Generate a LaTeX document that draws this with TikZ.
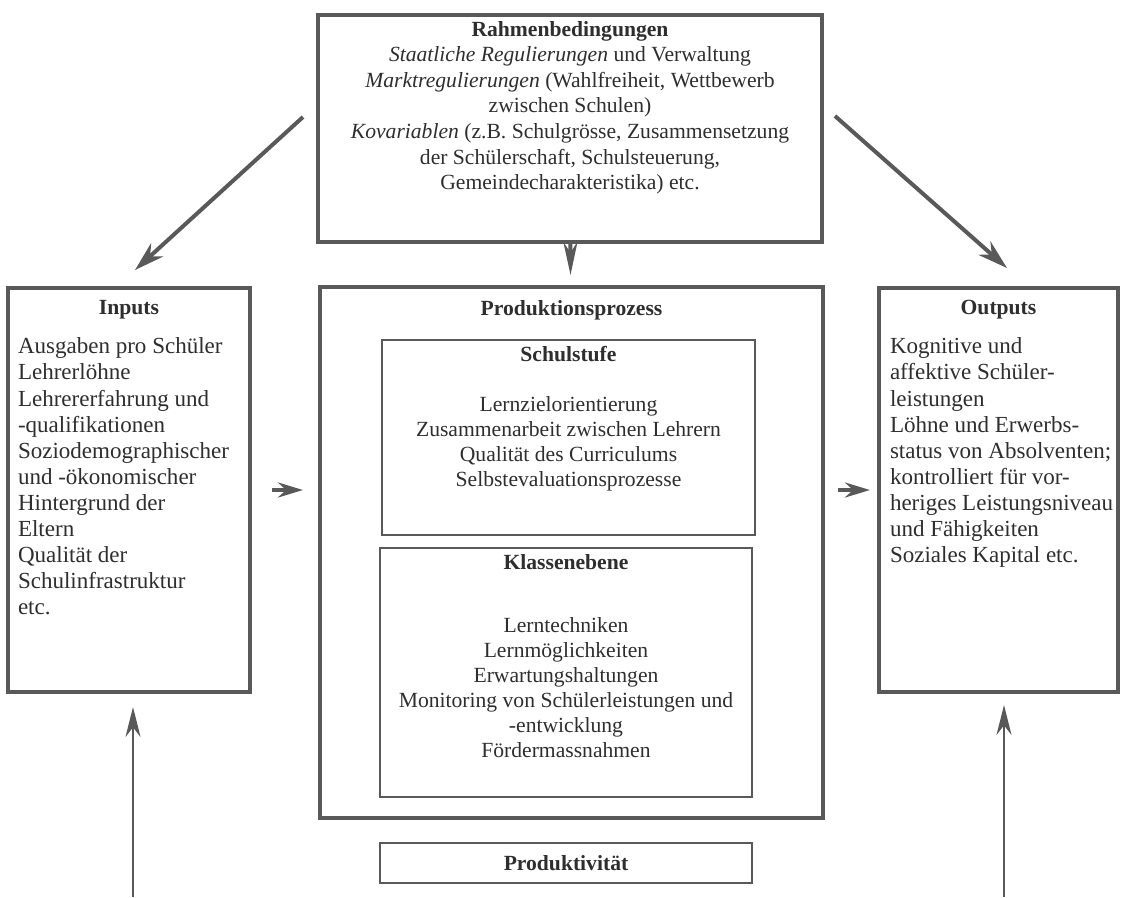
\documentclass[tikz,border=0pt]{standalone}
\usepackage{fontspec}
\setmainfont{Liberation Serif}
\usetikzlibrary{arrows.meta,positioning}

\tikzset{
	bigbox/.style={draw=black!65, line width=0.7mm, inner sep=0pt, outer sep=0pt},
	smallbox/.style={draw=black!65, line width=0.4mm, inner sep=0pt, outer sep=0pt},
	midtext/.style={text=black!82, inner sep=0pt, outer sep=0pt, align=center, font=\fontsize{12.3}{14.3}\selectfont},
	toptext/.style={midtext, font=\fontsize{12.3}{14.6}\selectfont},
	sidetext/.style={text=black!82, inner sep=0pt, outer sep=0pt, align=left, font=\fontsize{13.1}{14.8}\selectfont},
	flowline/.style={draw=black!65, line width=0.8mm, -{Stealth[length=6mm, width=3.6mm]}},
	footline/.style={draw=black!65, line width=0.4mm, -{Stealth[length=6mm, width=3mm]}},
}

\begin{document}
\begin{tikzpicture}
		%%%%% START %%%%%
		\useasboundingbox (0, 0) rectangle (22.42, -17.94);
		
		% boxes
		\node[bigbox, minimum width=10.08cm, minimum height=4.54cm] (rahmen) at (11.40, -2.57) {};
		\node[bigbox, minimum width=4.84cm, minimum height=8.08cm] (inputs) at (2.58, -9.80) {};
		\node[bigbox, minimum width=10.06cm, minimum height=10.62cm] (prozess) at (11.43, -11.05) {};
		\node[bigbox, minimum width=4.78cm, minimum height=8.08cm] (outputs) at (19.97, -9.80) {};
		\node[smallbox, minimum width=7.46cm, minimum height=3.90cm] (schule) at (11.37, -8.75) {};
		\node[smallbox, minimum width=7.44cm, minimum height=4.98cm] (klasse) at (11.32, -13.45) {};
		\node[smallbox, minimum width=7.44cm, minimum height=0.80cm] (produkt) at (11.32, -17.26) {\textcolor{black!82}{\fontsize{12.3}{14.3}\selectfont\textbf{Produktivität}}};
		
		% texts
		\node[toptext, below=0.12cm of rahmen.north] (rahmentext) {\textbf{Rahmenbedingungen}\\
			\textit{Staatliche Regulierungen} und Verwaltung\\
			\textit{Marktregulierungen} (Wahlfreiheit, Wettbewerb\\
			zwischen Schulen)\\
			\textit{Kovariablen} (z.B. Schulgrösse, Zusammensetzung\\
			der Schülerschaft, Schulsteuerung,\\
			Gemeindecharakteristika) etc.};
		
		\node[midtext, below=0.24cm of inputs.north] (inputstitle) {\textbf{Inputs}};
		\node[sidetext, below right=1.0cm and 0.2cm of inputs.north west] (inputstext) {Ausgaben pro Schüler\\
			Lehrerlöhne\\
			Lehrererfahrung und\\
			-qualifikationen\\
			Soziodemographischer\\
			und -ökonomischer\\
			Hintergrund der\\
			Eltern\\
			Qualität der\\
			Schulinfrastruktur\\
			etc.};
		
		\node[midtext, below=0.24cm of outputs.north] (outputstitle) {\textbf{Outputs}};
		\node[sidetext, below right=1.0cm and 0.22cm of outputs.north west] (outputstext) {Kognitive und\\
			affektive Schüler-\\
			leistungen\\
			Löhne und Erwerbs-\\
			status von Absolventen;\\
			kontrolliert für vor-\\
			heriges Leistungsniveau\\
			und Fähigkeiten\\
			Soziales Kapital etc.};
		
		\node[midtext, below=0.26cm of prozess.north] (prozesstitle) {\textbf{Produktionsprozess}};
		\node[midtext, below=0.12cm of schule.north] (schuletitle) {\textbf{Schulstufe}};
		\node[midtext, below=1.12cm of schule.north] (schuletext) {Lernzielorientierung\\
			Zusammenarbeit zwischen Lehrern\\
			Qualität des Curriculums\\
			Selbstevaluationsprozesse};
		\node[midtext, below=0.12cm of klasse.north] (klassetitle) {\textbf{Klassenebene}};
		\node[midtext, below=1.38cm of klasse.north] (klassetext) {Lerntechniken\\
			Lernmöglichkeiten\\
			Erwartungshaltungen\\
			Monitoring von Schülerleistungen und\\
			-entwicklung\\
			Fördermassnahmen};
		
		% arrows
		\coordinate (leftstart) at (6.06, -2.34);
		\coordinate (lefttip) at (2.70, -5.40);
		\coordinate (rightstart) at (16.70, -2.32);
		\coordinate (righttip) at (20.14, -5.36);
		\coordinate (leftfoot) at (2.66, -17.94);
		\coordinate (lefthead) at (2.66, -14.14);
		\coordinate (rightfoot) at (20.08, -17.94);
		\coordinate (righthead) at (20.08, -14.10);
		
		\draw[flowline] (leftstart) -- (lefttip);
		\draw[flowline] (rightstart) -- (righttip);
		\draw[flowline, -{Stealth[length=6.6mm, width=2.8mm]}, shorten >=0.24cm] (rahmen) -- (prozess);
		\draw[flowline, -{Stealth[length=5mm, width=3mm]}, shorten <=0.44cm, shorten >=0.34cm] (inputs.east) -- (inputs.east -| prozess.west);
		\draw[flowline, -{Stealth[length=5mm, width=3mm]}, shorten <=0.30cm, shorten >=0.18cm] (outputs.west -| prozess.east) -- (outputs.west);
		\draw[footline] (leftfoot) -- (lefthead);
		\draw[footline] (rightfoot) -- (righthead);
		%%%%% END %%%%%
	\end{tikzpicture}
\end{document}
